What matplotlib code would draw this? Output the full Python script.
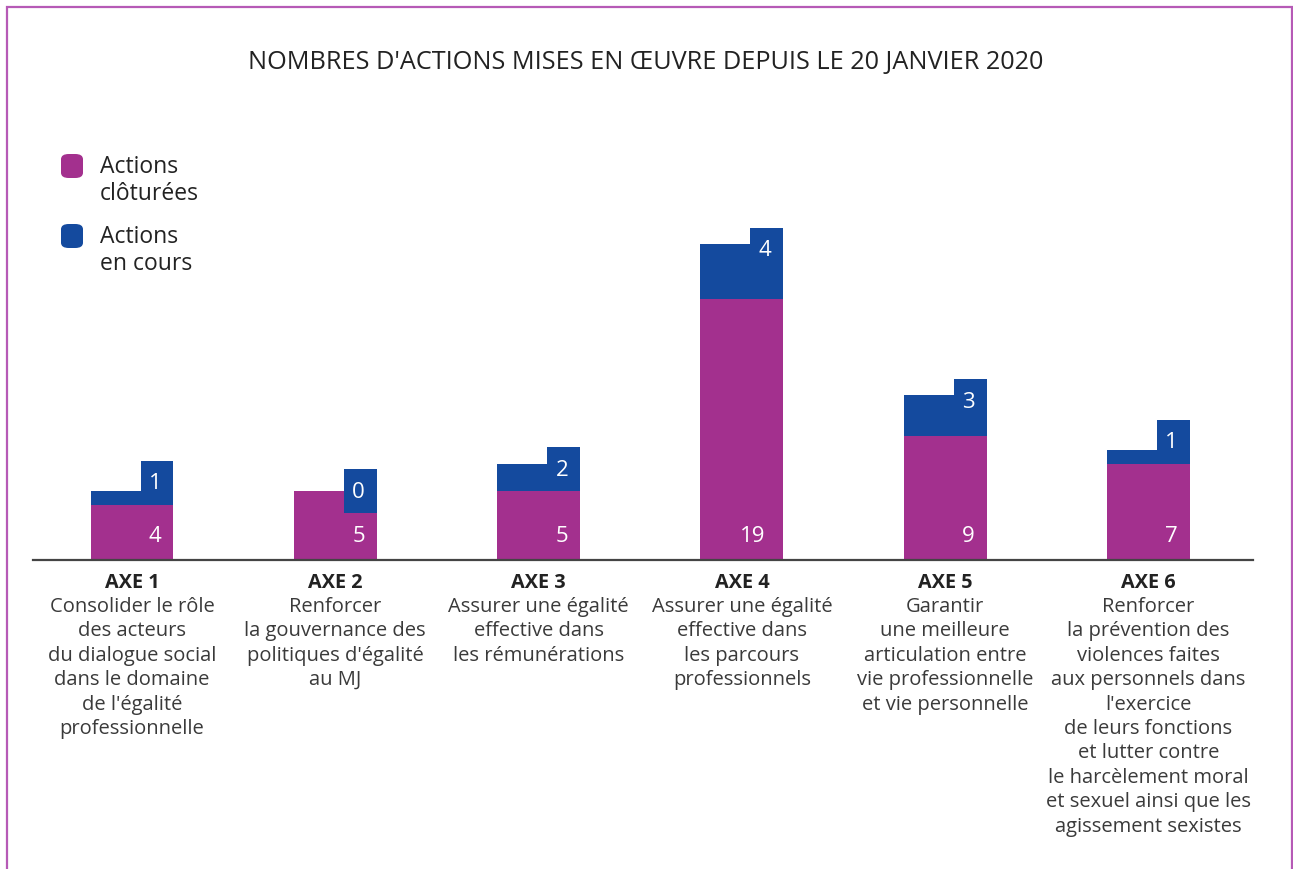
import matplotlib
matplotlib.use("Agg")
import matplotlib.pyplot as plt
from matplotlib.patches import Rectangle, FancyBboxPatch

plt.rcParams['font.family'] = ['Open Sans', 'DejaVu Sans']

# ---- data ----
axes_names = ["AXE 1", "AXE 2", "AXE 3", "AXE 4", "AXE 5", "AXE 6"]
descriptions = [
    ["Consolider le rôle", "des acteurs", "du dialogue social", "dans le domaine",
     "de l'égalité", "professionnelle"],
    ["Renforcer", "la gouvernance des", "politiques d'égalité", "au MJ"],
    ["Assurer une égalité", "effective dans", "les rémunérations"],
    ["Assurer une égalité", "effective dans", "les parcours", "professionnels"],
    ["Garantir", "une meilleure", "articulation entre", "vie professionnelle",
     "et vie personnelle"],
    ["Renforcer", "la prévention des", "violences faites", "aux personnels dans",
     "l'exercice", "de leurs fonctions", "et lutter contre", "le harcèlement moral",
     "et sexuel ainsi que les", "agissement sexistes"],
]
closed = [4, 5, 5, 19, 9, 7]
ongoing = [1, 0, 2, 4, 3, 1]
title = "NOMBRES D'ACTIONS MISES EN ŒUVRE DEPUIS LE 20 JANVIER 2020"
legend_labels = [["Actions", "clôturées"], ["Actions", "en cours"]]

PURPLE = "#A3308E"
BLUE = "#144A9E"
BORDER = "#B65AB6"

W, H = 1293, 870
fig = plt.figure(figsize=(W / 100, H / 100), dpi=100)
fig.patch.set_facecolor("white")

# outer frame
fig.patches.append(Rectangle((7 / W, -0.05), (1292 - 7) / W, (H - 8) / H + 0.05,
                             transform=fig.transFigure, fill=False,
                             edgecolor=BORDER, linewidth=1.6))

unit_px = 13.75
ymax = 25
ax = fig.add_axes([33 / W, (H - 561) / H, 1220 / W, ymax * unit_px / H])
ax.set_xlim(-0.487, 5.514)
ax.set_ylim(0, ymax)
for s in ["top", "right", "left"]:
    ax.spines[s].set_visible(False)
ax.spines["bottom"].set_color("#444444")
ax.spines["bottom"].set_linewidth(1.6)
ax.set_xticks([])
ax.set_yticks([])
ax.patch.set_alpha(0)

bw = 0.408
tw = 0.162
tab_h = 3.2
x = list(range(len(closed)))
totals = [c + o for c, o in zip(closed, ongoing)]

ax.bar(x, closed, width=bw, color=PURPLE, linewidth=0, zorder=2)
ax.bar(x, ongoing, bottom=closed, width=bw, color=BLUE, linewidth=0, zorder=2)

tab_bottoms = []
for c, o, t in zip(closed, ongoing, totals):
    if o == 0:
        top = t + tab_h / 2
    else:
        top = max(t + 1.15, c + tab_h)
    tab_bottoms.append(top - tab_h)
tab_x = [i + bw / 2 - tw / 2 for i in x]
ax.bar(tab_x, [tab_h] * len(x), bottom=tab_bottoms, width=tw, color=BLUE,
       linewidth=0, zorder=3)

lab_x = [i + bw / 2 - 0.058 for i in x]
for i in x:
    ax.text(lab_x[i] - (0.03 if closed[i] >= 10 else 0), 1.75, str(closed[i]),
            color="white", fontsize=16, ha="right", va="center", zorder=4)
    ax.text(lab_x[i], tab_bottoms[i] + tab_h / 2, str(ongoing[i]), color="white",
            fontsize=16, ha="right", va="center", zorder=4)

# category labels
px = 0.72  # points per pixel
for i in x:
    ax.annotate(axes_names[i], xy=(i, 0), xytext=(0, -22 * px),
                textcoords="offset points", ha="center", va="center",
                fontsize=14.3, fontweight="bold", color="#222222",
                annotation_clip=False)
    for k, line in enumerate(descriptions[i]):
        ax.annotate(line, xy=(i, 0), xytext=(0, -(46 + 24.4 * k) * px),
                    textcoords="offset points", ha="center", va="center",
                    fontsize=14.5, color="#3a3a3a", annotation_clip=False)

# title
fig.text(646 / W, 1 - 62 / H, title, ha="center", va="center", fontsize=18.2,
         color="#222222")

# legend
for j, (col, lines) in enumerate(zip([PURPLE, BLUE], legend_labels)):
    y0 = 167 + 70 * j
    fig.patches.append(FancyBboxPatch((61 / W, 1 - (y0 + 12) / H), 22 / W, 24 / H,
                                      boxstyle="round,pad=0,rounding_size=0.006",
                                      transform=fig.transFigure, facecolor=col,
                                      edgecolor="none"))
    for k, line in enumerate(lines):
        fig.text(100 / W, 1 - (y0 + 27 * k) / H, line, ha="left", va="center",
                 fontsize=16.5, color="#222222")

fig.savefig("out.png", dpi=100)
